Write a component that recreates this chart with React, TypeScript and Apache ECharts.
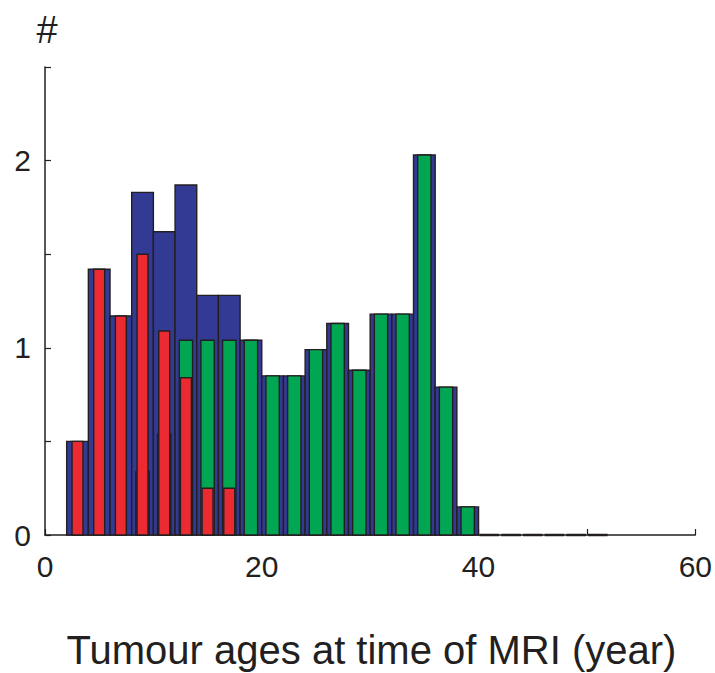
import React, { useEffect, useRef } from "react";
import * as echarts from "echarts";

// Bin start ages (years); each bin is 2 years wide
const binStarts = [2, 4, 6, 8, 10, 12, 14, 16, 18, 20, 22, 24, 26, 28, 30, 32, 34, 36, 38, 40, 42, 44, 46, 48, 50];
const binWidth = 2;

// All tumours (blue)
const blueValues = [0.5, 1.42, 1.17, 1.83, 1.62, 1.87, 1.28, 1.28, 1.04, 0.85, 0.85, 0.99, 1.13, 0.88, 1.18, 1.18, 2.03, 0.79, 0.15, 0, 0, 0, 0, 0, 0];
// Dark overlay (barely visible)
const darkValues = [null, null, null, 0.34, 0.54, null, null, null, null, null, null, null, null, null, null, null, null, null, null, null, null, null, null, null, null];
// Green group
const greenValues = [null, null, null, null, null, 1.04, 1.04, 1.04, 1.04, 0.85, 0.85, 0.99, 1.13, 0.88, 1.18, 1.18, 2.03, 0.79, 0.15, null, null, null, null, null, null];
// Red group
const redValues = [0.5, 1.42, 1.17, 1.5, 1.09, 0.84, 0.25, 0.25, null, null, null, null, null, null, null, null, null, null, null, null, null, null, null, null, null];

const xTicks = [0, 20, 40, 60];
const yTicks = [0, 1, 2];

const BLUE = "#333a94";
const GREEN = "#00a651";
const RED = "#ec2a31";
const INK = "#231f20";
const FONT = "Liberation Sans, Arial, sans-serif";

function toData(values: (number | null)[]) {
  const out: number[][] = [];
  values.forEach((v, i) => {
    if (v !== null && v !== undefined) out.push([binStarts[i], v]);
  });
  return out;
}

function makeRender(fraction: number, color: string) {
  return (params: any, api: any) => {
    const x0 = api.value(0);
    const v = api.value(1);
    const bl = api.coord([x0, 0]);
    const tr = api.coord([x0 + binWidth, v]);
    const binW = tr[0] - bl[0];
    const w = binW * fraction;
    const cx = (bl[0] + tr[0]) / 2;
    if (v === 0) {
      return {
        type: "line",
        shape: { x1: bl[0] + 1, y1: bl[1], x2: tr[0] - 1, y2: bl[1] },
        style: { stroke: INK, lineWidth: 2.5 },
      };
    }
    return {
      type: "rect",
      shape: { x: cx - w / 2, y: tr[1], width: w, height: bl[1] - tr[1] },
      style: { fill: color, stroke: INK, lineWidth: 1.4 },
    };
  };
}

export default function App() {
  const ref = useRef<HTMLDivElement>(null);
  useEffect(() => {
    if (!ref.current) return;
    const chart = echarts.init(ref.current, null, { renderer: "svg" });
    chart.setOption({
      animation: false,
      backgroundColor: "#ffffff",
      grid: { left: 45, right: 16, top: 67, bottom: 138, containLabel: false },
      xAxis: {
        type: "value",
        min: 0,
        max: 60,
        interval: 10,
        axisLine: { show: true, lineStyle: { color: INK, width: 1.5 } },
        axisTick: { show: true, inside: true, length: 6, lineStyle: { color: INK, width: 1.2 } },
        splitLine: { show: false },
        axisLabel: {
          fontSize: 30,
          fontFamily: FONT,
          color: INK,
          margin: 16,
          formatter: (v: number) => (xTicks.indexOf(v) >= 0 ? String(v) : ""),
        },
      },
      yAxis: {
        type: "value",
        min: 0,
        max: 2.5,
        interval: 0.5,
        axisLine: { show: true, lineStyle: { color: INK, width: 1.5 } },
        axisTick: { show: true, inside: true, length: 6, lineStyle: { color: INK, width: 1.2 } },
        splitLine: { show: false },
        axisLabel: {
          fontSize: 30,
          fontFamily: FONT,
          color: INK,
          margin: 14,
          formatter: (v: number) => (yTicks.indexOf(v) >= 0 ? String(v) : ""),
        },
      },
      graphic: [
        {
          type: "text",
          x: 47,
          y: 30,
          style: { text: "#", fontSize: 38, fontFamily: FONT, fill: INK, align: "center", verticalAlign: "middle" },
        },
        {
          type: "text",
          x: 371.5,
          y: 650,
          style: {
            text: "Tumour ages at time of MRI (year)",
            fontSize: 40,
            fontFamily: FONT,
            fill: INK,
            align: "center",
            verticalAlign: "middle",
          },
        },
      ],
      series: [
        { type: "custom", name: "all", z: 2, renderItem: makeRender(1, BLUE), data: toData(blueValues) },
        { type: "custom", name: "dark", z: 3, renderItem: makeRender(0.62, BLUE), data: toData(darkValues) },
        { type: "custom", name: "green", z: 4, renderItem: makeRender(0.615, GREEN), data: toData(greenValues) },
        { type: "custom", name: "red", z: 5, renderItem: makeRender(0.505, RED), data: toData(redValues) },
      ],
    });
    return () => chart.dispose();
  }, []);
  return <div ref={ref} style={{ position: "fixed", left: 0, top: 0, width: 715, height: 673 }} />;
}
